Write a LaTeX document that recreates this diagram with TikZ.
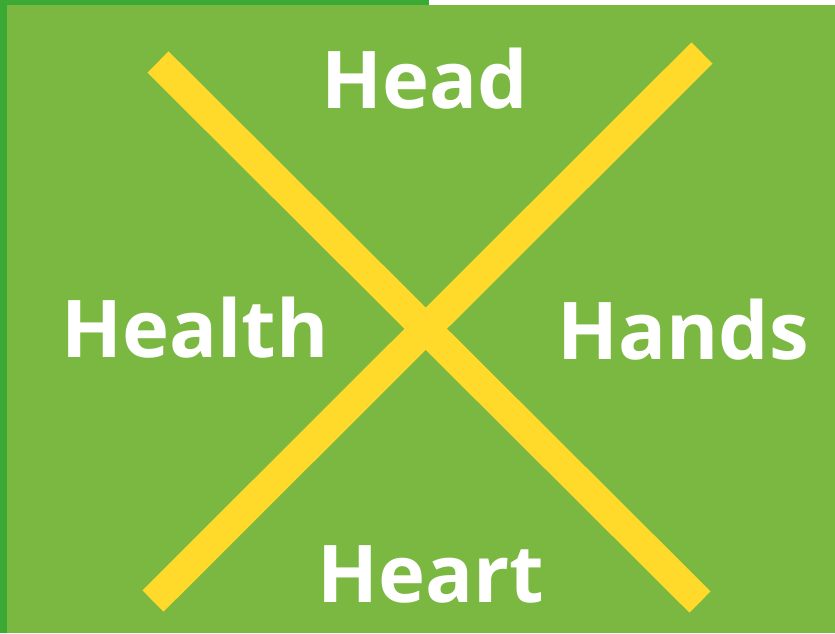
\documentclass[tikz,border=0pt]{standalone}
\usepackage{fontspec}
\setmainfont{Open Sans}
\usepackage{tikz}
\usetikzlibrary{positioning}
\definecolor{leafgreen}{HTML}{7AB841}
\definecolor{darkgreen}{HTML}{3BAA35}
\definecolor{crossyellow}{HTML}{FFDA2A}

\begin{document}
\begin{tikzpicture}[
      x=0.03cm, y=-0.03cm,
      word/.style={text=white, font=\fontsize{68}{68}\selectfont\bfseries, anchor=base, inner sep=0pt},
      bar/.style={draw=crossyellow, line width=0.9cm, line cap=butt}
  ]
    \useasboundingbox (0,0) rectangle (835,633);
    % background strips
    \fill[white] (0,0) rectangle (835,633);
    \fill[darkgreen] (0,0) rectangle (429,5);
    \fill[darkgreen] (0,0) rectangle (7,633);
    \fill[leafgreen] (7,5) rectangle (835,633);
    % the cross
    \coordinate (tl) at (158,62);
    \coordinate (br) at (700,602);
    \coordinate (tr) at (702,53);
    \coordinate (bl) at (153,601);
    \draw[bar] (tl) -- (br);
    \draw[bar] (bl) -- (tr);
    % the four words
    \node[word] (head) at (425,108) {Head};
    \node[word] (health) at (195,357) {Health};
    \node[word] (hands) at (683,359) {Hands};
    \node[word] (heart) at (431,602) {Heart};
  \end{tikzpicture}
\end{document}
